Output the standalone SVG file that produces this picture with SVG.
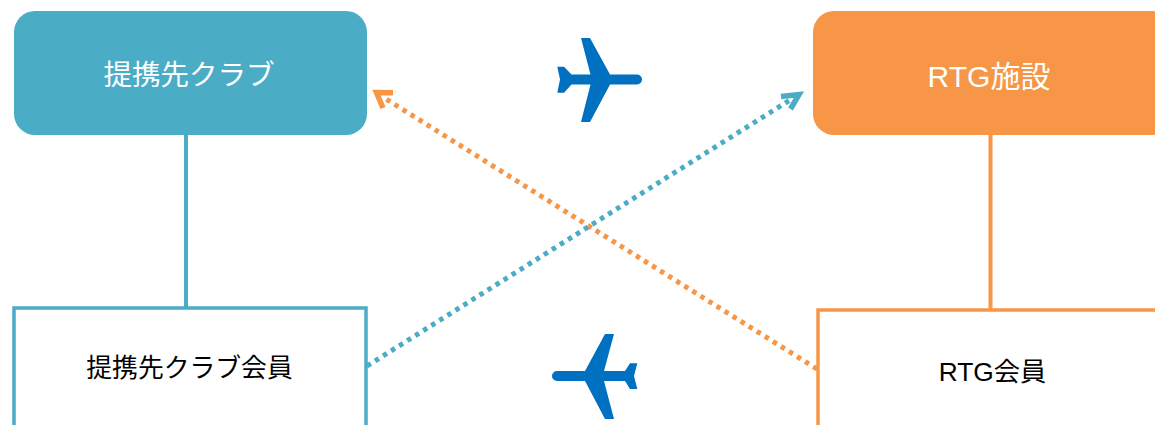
<svg xmlns="http://www.w3.org/2000/svg" width="1155" height="425" viewBox="0 0 1155 425">
<style>
text{font-family:"Liberation Sans","Noto Sans CJK JP",sans-serif;text-anchor:middle}
.w{fill:#fff;font-size:28.500px}
.w2{fill:#fff;font-size:30px}
.k{fill:#000;font-size:25.800px}
.k2{fill:#000;font-size:26.300px}
.t{fill:#4bacc6}
.o{fill:#f79646}
.box{fill:#fff;stroke-width:3.500}
.plane{fill:#0070c0}
.c{fill:none;stroke-width:4}
.d{fill:none;stroke-width:5;stroke-dasharray:4.500 5}
.h{fill:none;stroke-width:5.500;stroke-linejoin:miter}
</style>
<rect width="1155" height="425" fill="#fff"/>
<g id="connectors">
<path class="c" stroke="#4bacc6" d="M186 135V307"/>
<path class="c" stroke="#f79646" d="M990.500 135V309"/>
<path class="d" stroke="#f79646" d="M817 369L386 99"/>
<path class="h" stroke="#f79646" d="M393 92.700L376.500 92.500L383 108"/>
<path class="d" stroke="#4bacc6" d="M367 366L790 100"/>
<path class="h" stroke="#4bacc6" d="M781 96.500L799 94.500L790.500 109"/>
</g>
<g id="partner-club"><rect class="t" x="14" y="11" width="353" height="124" rx="21"/><text class="w" x="189" y="85">提携先クラブ</text></g>
<g id="rtg-facility"><rect class="o" x="813" y="11" width="360" height="124" rx="21"/><text class="w2" x="989" y="87">RTG施設</text></g>
<g id="partner-member"><rect class="box" stroke="#4bacc6" x="14" y="308" width="352" height="130"/><text class="k" x="189.500" y="377">提携先クラブ会員</text></g>
<g id="rtg-member"><rect class="box" stroke="#f79646" x="818" y="310" width="360" height="130"/><text class="k2" x="992.500" y="381">RTG会員</text></g>
<g id="plane-top"><path class="plane" d="M637 74.500a5 5 0 0 1 0 10H610L590 122H581L590.500 84.500H571.500L564 92.700H557.300L560 79.500L557.300 66.700H564L571.500 74.500H590.500L581 38H590L610 74.500Z"/></g>
<g id="plane-bottom"><path class="plane" d="M557 371a5 5 0 0 0 0 10H585L605 419H614L604 381H625L630 389H637.300L634 376L637.300 363.300H630L625 371H604L614 334H605L585 371Z"/></g>
</svg>
